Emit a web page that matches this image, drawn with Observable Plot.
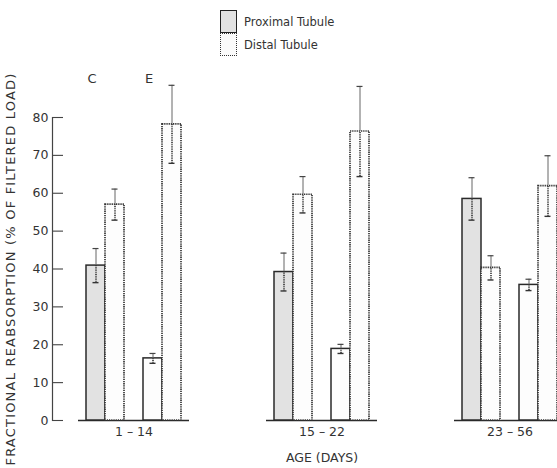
<!DOCTYPE html>
<html>
<head>
<meta charset="utf-8">
<script src="https://cdn.jsdelivr.net/npm/d3@7"></script>
<script src="https://cdn.jsdelivr.net/npm/@observablehq/plot@0.6"></script>
<style>
  html, body { margin: 0; padding: 0; background: #fff; overflow: hidden; }
  #wrap { position: relative; width: 557px; height: 468px; overflow: hidden; }
  #wrap svg { position: absolute; left: 0; top: 0; max-width: none !important; height: 468px !important; }
  #legend { position: absolute; left: 220px; top: 10px; font: 11.5px "DejaVu Sans", sans-serif; color: #333; z-index: 2; }
  #legend .row { display: flex; align-items: center; height: 23px; }
  #legend .sw { width: 15px; height: 21px; margin-right: 7px; box-sizing: content-box; }
  #legend .sw.proximal { background: #e2e2e2; border: 1.5px solid #222; border-bottom-width: 0.75px; }
  #legend .sw.distal { background: #fbfbfb; border: 1.5px dotted #333; border-top-width: 0.75px; }
</style>
</head>
<body>
<div id="wrap"><div id="legend"></div></div>
<script>
// Age groups (days), control vs experimental, and the two nephron segments
const ages = ["1 – 14", "15 – 22", "23 – 56"];
const conditions = ["C", "E"];
const tubules = ["Proximal", "Distal"];

// Mean fractional reabsorption (% of filtered load), one value per age group
const meanProximalC = [40.9, 39.2, 58.5];
const meanDistalC   = [57.0, 59.6, 40.3];
const meanProximalE = [16.4, 18.9, 35.8];
const meanDistalE   = [78.2, 76.3, 61.9];

// Standard errors, same order
const semProximalC = [4.5, 5.0, 5.6];
const semDistalC   = [4.1, 4.8, 3.2];
const semProximalE = [1.3, 1.2, 1.5];
const semDistalE   = [10.3, 11.9, 8.0];

const yTicks = [0, 10, 20, 30, 40, 50, 60, 70, 80];
const yLabel = "FRACTIONAL REABSORPTION (% OF FILTERED LOAD)";
const xLabel = "AGE (DAYS)";

// Table built from the arrays above
const series = {
  "C Proximal": [meanProximalC, semProximalC],
  "C Distal":   [meanDistalC,   semDistalC],
  "E Proximal": [meanProximalE, semProximalE],
  "E Distal":   [meanDistalE,   semDistalE]
};
const rows = [];
ages.forEach((age, i) => {
  conditions.forEach(cond => {
    tubules.forEach(tubule => {
      const key = `${cond} ${tubule}`;
      const [m, s] = series[key];
      rows.push({age, cond, tubule, key, mean: m[i], sem: s[i]});
    });
  });
});

// Slots inside each age panel: C pair, an empty slot, then the E pair
const spacer = " ";
const slots = [`C ${tubules[0]}`, `C ${tubules[1]}`, spacer, `E ${tubules[0]}`, `E ${tubules[1]}`];

// Panel geometry
const FACET_W = 137, STEP = 188;

const proximal = rows.filter(d => d.tubule === "Proximal");
const distal = rows.filter(d => d.tubule === "Distal");
const ink = "#2a2a2a";
const font = "DejaVu Sans, sans-serif";

const chart = Plot.plot({
  width: 565,
  height: 468,
  marginLeft: 52,
  marginRight: 0,
  marginTop: 117,
  marginBottom: 48,
  style: {fontFamily: font, fontSize: "12px", color: "#333", background: "transparent", overflow: "visible"},
  fx: {domain: ages, paddingInner: (STEP - FACET_W) / STEP, paddingOuter: 0, axis: null, label: null},
  x: {domain: slots, padding: 0, insetLeft: 34, insetRight: 8, axis: null},
  y: {domain: [0, 80]},
  marks: [
    // y axis: line, inward ticks, labels and title on the first panel
    Plot.frame({anchor: "left", facetAnchor: "left", stroke: "#444", strokeWidth: 1.2}),
    Plot.tickY(yTicks, {y: d => d, facetAnchor: "left", insetRight: FACET_W - 11, stroke: "#444", strokeWidth: 1.1}),
    Plot.axisY(yTicks, {anchor: "left", tickSize: 0, tickPadding: 4, fontSize: 12.5, label: null}),
    Plot.text([yLabel], {
      text: d => d, frameAnchor: "left", facetAnchor: "left", rotate: -90, dx: -42,
      textAnchor: "middle", lineAnchor: "middle",
      fontSize: 13, fill: "#333", className: "ytitle"
    }),
    // panel baselines
    Plot.ruleY([0], {insetLeft: 26, stroke: ink, strokeWidth: 1.4}),
    // bars
    Plot.barY(proximal, {
      fx: "age", x: "key", y: "mean",
      fill: d => d.cond === "C" ? "#e2e2e2" : "#fdfdfd",
      stroke: ink, strokeWidth: 1.5
    }),
    Plot.barY(distal, {
      fx: "age", x: "key", y: "mean",
      fill: "#fdfdfd", stroke: "#333", strokeWidth: 1.7, strokeDasharray: "1.3,0.9"
    }),
    // error bars (± SE)
    Plot.ruleX(rows, {fx: "age", x: "key", y1: "mean", y2: d => d.mean + d.sem, stroke: "#666", strokeWidth: 1}),
    Plot.ruleX(rows, {fx: "age", x: "key", y1: d => d.mean - d.sem, y2: "mean", stroke: "#333", strokeWidth: 1.6, strokeDasharray: "1,0.8"}),
    Plot.tickY(rows, {fx: "age", x: "key", y: d => d.mean + d.sem, insetLeft: 6.5, insetRight: 6.5, stroke: "#444", strokeWidth: 1.2}),
    Plot.tickY(rows, {fx: "age", x: "key", y: d => d.mean - d.sem, insetLeft: 6.5, insetRight: 6.5, stroke: "#333", strokeWidth: 1.4}),
    // C / E labels above the first panel
    Plot.text(conditions, {
      fx: () => ages[0], x: c => `${c} ${tubules[0]}`, text: d => d,
      frameAnchor: "top", dy: -44, dx: -4, fontSize: 13, fill: "#333"
    }),
    // age group labels under each panel, and the axis title
    Plot.text(ages, {fx: d => d, x: () => spacer, text: d => d, frameAnchor: "bottom", dy: 15, fontSize: 12.5, fill: "#333"}),
    Plot.text([xLabel], {fx: () => ages[1], x: () => spacer, text: d => d, frameAnchor: "bottom", dy: 41, fontSize: 12.5, fill: "#333"})
  ]
});

// widen the tracking of the vertical title
chart.querySelectorAll(".ytitle text, text.ytitle").forEach(t => t.style.letterSpacing = "1.2px");
chart.querySelectorAll("text").forEach(t => {
  if (t.textContent === yLabel) t.style.letterSpacing = "1.2px";
});

document.getElementById("wrap").appendChild(chart);

// Legend
const legend = document.getElementById("legend");
tubules.forEach(t => {
  const row = document.createElement("div");
  row.className = "row";
  const sw = document.createElement("span");
  sw.className = "sw " + t.toLowerCase();
  row.appendChild(sw);
  row.appendChild(document.createTextNode(`${t} Tubule`));
  legend.appendChild(row);
});
</script>
</body>
</html>
